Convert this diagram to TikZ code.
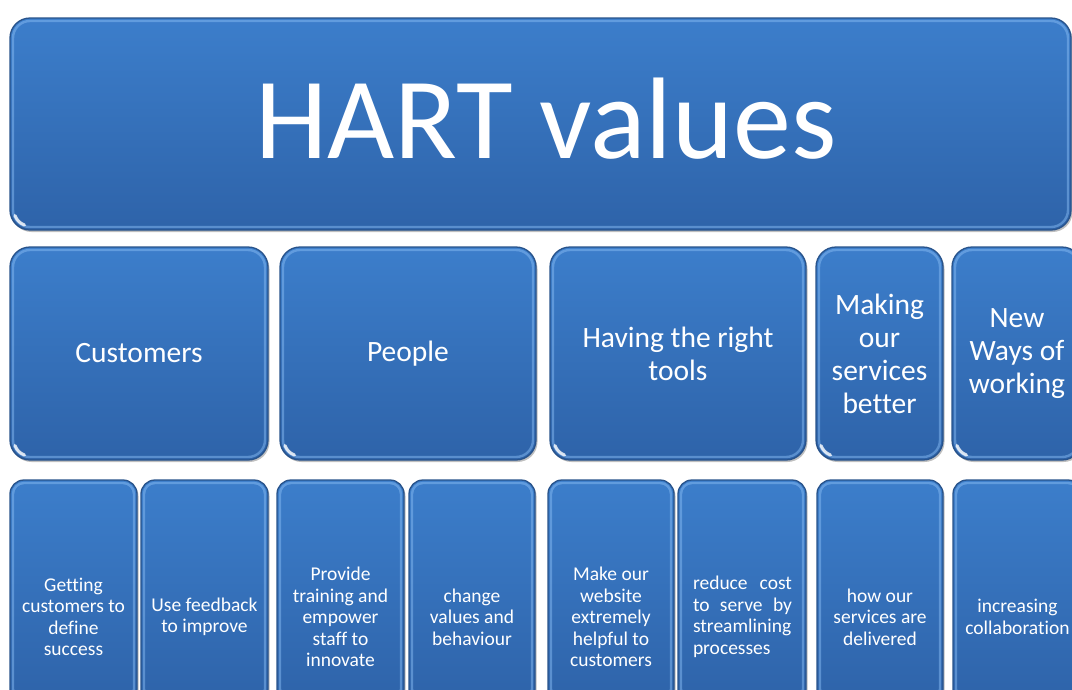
\documentclass[tikz,border=0pt]{standalone}
\usepackage{fontspec}
\setmainfont{Carlito}[Ligatures=NoCommon]
\usetikzlibrary{shadows}

\definecolor{tiletop}{HTML}{3C7ECB}
\definecolor{tilebot}{HTML}{2E63A9}
\definecolor{tileedge}{HTML}{28538B}
\definecolor{tilehl}{HTML}{86BAF2}

\newcommand{\titlefont}{\fontsize{116}{120}\selectfont}
\newcommand{\headfont}{\fontsize{29.5}{33}\selectfont}
\newcommand{\leaffont}{\fontsize{19.5}{21.5}\selectfont}

\tikzset{
  tilebase/.style={draw=tileedge, line width=1.3pt, top color=tiletop,
    bottom color=tilebot, inner sep=0pt, text=white, align=center,
    drop shadow={shadow xshift=1.5pt, shadow yshift=-2pt, opacity=0.25, fill=black}},
  bigtile/.style={tilebase, rounded corners=20pt, path picture={
    \draw[tilehl, line width=2.4pt, opacity=0.5, rounded corners=17pt]
      ([shift={(3pt,-3pt)}]path picture bounding box.north west) rectangle
      ([shift={(-3pt,3pt)}]path picture bounding box.south east);
    \draw[white, line width=3pt, opacity=0.8, line cap=round]
      ([shift={(20pt,20pt)}]path picture bounding box.south west)
      ++(200:16pt) arc[start angle=200, end angle=250, radius=16pt];
  }},
  smalltile/.style={tilebase, rounded corners=14pt, path picture={
    \draw[tilehl, line width=2.4pt, opacity=0.5, rounded corners=11pt]
      ([shift={(3pt,-3pt)}]path picture bounding box.north west) rectangle
      ([shift={(-3pt,3pt)}]path picture bounding box.south east);
    \draw[white, line width=3pt, opacity=0.8, line cap=round]
      ([shift={(14pt,14pt)}]path picture bounding box.south west)
      ++(200:11pt) arc[start angle=200, end angle=250, radius=11pt];
  }},
  head/.style={bigtile, minimum height=213pt, font=\headfont},
  leafbox/.style={smalltile, minimum height=223pt},
  leaf/.style={text=white, align=center, inner sep=0pt, font=\leaffont},
  title/.style={text=white, inner sep=0pt, font=\titlefont, anchor=base},
}

\begin{document}
\begin{tikzpicture}[x=1pt, y=-1pt]
  \useasboundingbox (0,0) rectangle (1072,689);
  \fill[white] (0,0) rectangle (1072,689);
  \clip (0,0) rectangle (1072,689);

  % banner
  \node[bigtile, minimum width=1061pt, minimum height=212pt] (banner) at (540.5,124) {};
  \node[title] (title) at (546,158) {HART values};

  % value headings
  \node[head, minimum width=258pt] (cust)   at (139,353.5)   {Customers};
  \node[head, minimum width=256pt] (people) at (408,353.5)   {People};
  \node[head, minimum width=256pt] (tools)  at (678,353.5)   {Having the right\\tools};
  \node[head, minimum width=127pt] (better) at (879.5,353.5) {Making\\our\\services\\better};
  \node[head, minimum width=130pt] (ways)   at (1017,353.5)  {New\\Ways of\\working};

  % detail tiles
  \node[leafbox, minimum width=127pt] (getting)  at (73.5,591.5)  {};
  \node[leafbox, minimum width=127pt] (feedback) at (204.5,591.5) {};
  \node[leafbox, minimum width=127pt] (provide)  at (340.5,591.5) {};
  \node[leafbox, minimum width=126pt] (change)   at (472,591.5)   {};
  \node[leafbox, minimum width=126pt] (website)  at (611,591.5)   {};
  \node[leafbox, minimum width=128pt] (reduce)   at (742,591.5)   {};
  \node[leafbox, minimum width=126pt] (how)      at (880,591.5)   {};
  \node[leafbox, minimum width=129pt] (collab)   at (1017.5,591.5) {};

  % detail texts
  \node[leaf] (getting-t)  at (73.5,617)  {Getting\\customers to\\define\\success};
  \node[leaf] (feedback-t) at (204.5,617) {Use feedback\\to improve};
  \node[leaf] (provide-t)  at (340.5,617) {Provide\\training and\\empower\\staff to\\innovate};
  \node[leaf] (change-t)   at (472,617)   {change\\values and\\behaviour};
  \node[leaf] (website-t)  at (611,617)   {Make our\\website\\extremely\\helpful to\\customers};
  \node[leaf, align=justify, text width=99pt] (reduce-t) at (742.5,617)
    {\hyphenpenalty=10000 reduce cost to serve by streamlining processes};
  \node[leaf] (how-t)      at (880,617)   {how our\\services are\\delivered};
  \node[leaf] (collab-t)   at (1017.5,617) {increasing\\collaboration};
\end{tikzpicture}
\end{document}
